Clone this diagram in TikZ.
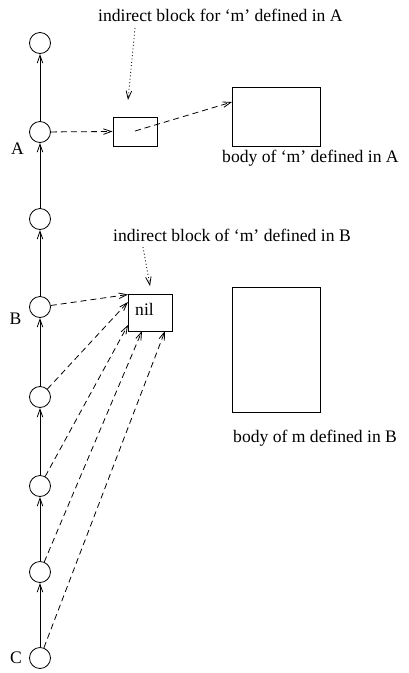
\documentclass[tikz,border=0pt]{standalone}
\usepackage{fontspec}
\setmainfont{Liberation Serif}
\usetikzlibrary{arrows.meta}
\tikzset{
  state/.style={circle,draw,line width=0.8pt,minimum size=21pt,inner sep=0pt},
  block/.style={rectangle,draw,line width=0.8pt,inner sep=0pt},
  txt/.style={inner sep=0pt,font=\fontsize{17.6}{21}\selectfont},
  tip/.style={-{Straight Barb[length=8pt,width=5.5pt,line width=0.8pt]}},
  chain/.style={tip,line width=0.8pt},
  ptr/.style={tip,line width=0.8pt,dash pattern=on 6pt off 4pt},
  note/.style={tip,line width=0.8pt,dash pattern=on 1pt off 2.4pt},
}
\begin{document}
\begin{tikzpicture}[x=1pt,y=-1pt]
\useasboundingbox (0,0) rectangle (409,673);

% chain of environments, bottom to top
\node[state] (c1) at (40,43) {};
\node[state] (c2) at (40,132) {};
\node[state] (c3) at (40,219) {};
\node[state] (c4) at (40,307) {};
\node[state] (c5) at (40,397) {};
\node[state] (c6) at (40,486) {};
\node[state] (c7) at (40,572) {};
\node[state] (c8) at (40,658) {};

\node[txt,anchor=base] (lA) at (17.5,154) {A};
\node[txt,anchor=base] (lB) at (15.5,324) {B};
\node[txt,anchor=base] (lC) at (16,663) {C};

\draw[chain] (c8) -- (c7);
\draw[chain] (c7) -- (c6);
\draw[chain] (c6) -- (c5);
\draw[chain] (c5) -- (c4);
\draw[chain] (c4) -- (c3);
\draw[chain] (c3) -- (c2);
\draw[chain] (c2) -- (c1);

% blocks
\node[block,minimum width=44pt,minimum height=29pt] (indA) at (135,131.5) {};
\node[block,minimum width=88pt,minimum height=59pt] (bodyA) at (276,116.5) {};
\node[block,minimum width=44pt,minimum height=37pt] (nil) at (150,312.5) {};
\node[block,minimum width=88pt,minimum height=125pt] (bodyB) at (276,349.5) {};
\node[txt,anchor=base west] (niltxt) at (135,315) {nil};

% captions
\node[txt,anchor=base west] (capIA) at (98,21.5) {indirect block for ‘m’ defined in A};
\node[txt,anchor=base west] (capBA) at (222,162.5) {body of ‘m’ defined in A};
\node[txt,anchor=base west] (capIB) at (113,241.5) {indirect block of ‘m’ defined in B};
\node[txt,anchor=base west] (capBB) at (233,442) {body of m defined in B};

% caption pointers
\coordinate (dA0) at (135,28);
\coordinate (dA1) at (128,100);
\coordinate (dB0) at (143,247);
\coordinate (dB1) at (150,286);
\draw[note] (dA0) -- (dA1);
\draw[note] (dB0) -- (dB1);

% pointers of environment A
\coordinate (aIn) at (135,131);
\coordinate (aEnd) at (232,102);
\draw[ptr] (c2) -- (indA.west);
\draw[ptr] (aIn) -- (aEnd);

% pointers into the nil block
\coordinate (n1) at (128,294.5);
\coordinate (n2) at (128,302);
\coordinate (n3) at (128,325);
\coordinate (n4) at (142,331);
\coordinate (n5) at (165,331);
\draw[ptr] (c4) -- (n1);
\draw[ptr] (c5) -- (n2);
\draw[ptr] (c6) -- (n3);
\draw[ptr] (c7) -- (n4);
\draw[ptr] (c8) -- (n5);
\end{tikzpicture}
\end{document}
